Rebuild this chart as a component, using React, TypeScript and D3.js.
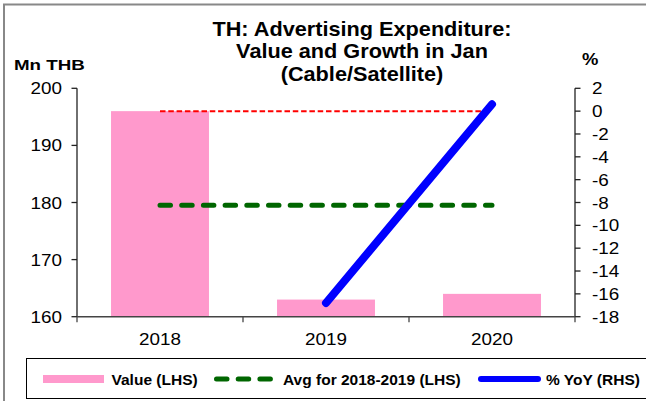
import React from "react";
import * as d3 from "d3";

const categories = ["2018", "2019", "2020"];
const values = [196, 163, 164];
const avgValues = [179.5, 179.5, 179.5];
const yoyValues: (number | null)[] = [null, -16.8, 0.6];
const zeroLine = [0, 0, 0];
const leftTicks = [160, 170, 180, 190, 200];
const rightTicks = [2, 0, -2, -4, -6, -8, -10, -12, -14, -16, -18];
const titleLines = ["TH: Advertising Expenditure:", "Value and Growth in Jan", "(Cable/Satellite)"];

const W = 646;
const H = 401;
const X0 = 77;
const X1 = 575;
const Y0 = 88.3;
const Y1 = 316.7;
const FONT = "'Liberation Sans', Arial, sans-serif";
const SX = 1.11;

function T(props: { x: number; y: number; size: number; anchor?: string; bold?: boolean; children: React.ReactNode; sx?: number }) {
  const { x, y, size, anchor = "start", bold = false, children, sx = SX } = props;
  return (
    <text
      transform={`translate(${x},${y}) scale(${sx},1)`}
      fontFamily={FONT}
      fontSize={size}
      fontWeight={bold ? "bold" : "normal"}
      textAnchor={anchor}
      fill="#000"
    >
      {children}
    </text>
  );
}

export default function App() {
  const xBand = d3.scaleBand<string>().domain(categories).range([X0, X1]).paddingInner(0.41).paddingOuter(0.205);
  const xAxisBand = d3.scaleBand<string>().domain(categories).range([X0, X1]).padding(0);
  const xc = (c: string) => xAxisBand(c)! + xAxisBand.bandwidth() / 2;
  const yL = d3.scaleLinear().domain([160, 200]).range([Y1, Y0]);
  const yR = d3.scaleLinear().domain([-18, 2]).range([Y1, Y0]);

  const lineL = d3.line<[string, number]>().x((d) => xc(d[0])).y((d) => yL(d[1]));
  const lineR = d3.line<[string, number | null]>()
    .defined((d) => d[1] !== null)
    .x((d) => xc(d[0]))
    .y((d) => yR(d[1] as number));

  const avgPts = categories.map((c, i) => [c, avgValues[i]] as [string, number]);
  const yoyPts = categories.map((c, i) => [c, yoyValues[i]] as [string, number | null]);
  const zeroPts = categories.map((c, i) => [c, zeroLine[i]] as [string, number | null]);

  const boundaries = [...categories.map((c) => xAxisBand(c)!), X1];

  return (
    <svg width={W} height={H} style={{ position: "absolute", left: 0, top: 0, background: "#fff" }}>
      <rect x={0} y={0} width={W} height={H} fill="#fff" />
      <rect x={4} y={4.5} width={700} height={500} fill="none" stroke="#888" strokeWidth={2} />

      {titleLines.map((t, i) => (
        <T key={t} x={362} y={35.5 + i * 22.7} size={20.5} anchor="middle" bold sx={1.058}>
          {t}
        </T>
      ))}
      <T x={14} y={70} size={15.5} bold sx={1.21}>Mn THB</T>
      <T x={582} y={65} size={16} bold sx={1.15}>%</T>

      {/* bars */}
      {categories.map((c, i) => (
        <rect key={c} x={xBand(c)} y={yL(values[i])} width={xBand.bandwidth()} height={Y1 - yL(values[i])} fill="#ff99cc" />
      ))}

      {/* reference zero line */}
      <path d={lineR(zeroPts) || ""} fill="none" stroke="#ff0000" strokeWidth={2} strokeDasharray="5.5,2.8" />
      {/* average line */}
      <path d={lineL(avgPts) || ""} fill="none" stroke="#006600" strokeWidth={5} strokeDasharray="10.5,11.2" strokeLinecap="round" />
      {/* yoy */}
      <path d={lineR(yoyPts) || ""} fill="none" stroke="#0000ff" strokeWidth={8} strokeLinecap="round" />

      {/* left axis */}
      <line x1={X0} x2={X0} y1={Y0} y2={Y1} stroke="#222" strokeWidth={1.3} />
      {leftTicks.map((t) => (
        <g key={t}>
          <line x1={X0 - 5.5} x2={X0} y1={yL(t)} y2={yL(t)} stroke="#222" strokeWidth={1.3} />
          <T x={62} y={yL(t) + 6} size={17} anchor="end">{t}</T>
        </g>
      ))}
      {/* right axis */}
      <line x1={X1} x2={X1} y1={Y0} y2={Y1} stroke="#222" strokeWidth={1.3} />
      {rightTicks.map((t) => (
        <g key={t}>
          <line x1={X1} x2={X1 + 5.5} y1={yR(t)} y2={yR(t)} stroke="#222" strokeWidth={1.3} />
          <T x={592} y={yR(t) + 6} size={17}>{t}</T>
        </g>
      ))}
      {/* x axis */}
      <line x1={X0} x2={X1} y1={Y1} y2={Y1} stroke="#444" strokeWidth={1.5} />
      {boundaries.map((b, i) => (
        <line key={i} x1={b} x2={b} y1={Y1} y2={Y1 + 5.5} stroke="#444" strokeWidth={1.3} />
      ))}
      {categories.map((c) => (
        <T key={c} x={xc(c)} y={345} size={17} anchor="middle">{c}</T>
      ))}

      {/* legend */}
      <rect x={26.5} y={358.5} width={700} height={40} fill="#fff" stroke="#000" strokeWidth={1} />
      <rect x={43} y={375} width={61} height={8} fill="#ff99cc" />
      <T x={111.5} y={385} size={15.5} bold sx={1.0}>Value (LHS)</T>
      <line x1={216.5} x2={279} y1={379} y2={379} stroke="#006600" strokeWidth={5} strokeDasharray="10.5,11.2" strokeLinecap="round" />
      <T x={283} y={385} size={15.5} bold sx={1.0}>Avg for 2018-2019 (LHS)</T>
      <line x1={481} x2={538} y1={379} y2={379} stroke="#0000ff" strokeWidth={6} strokeLinecap="round" />
      <T x={546} y={385} size={15.5} bold sx={1.0}>% YoY (RHS)</T>
    </svg>
  );
}
